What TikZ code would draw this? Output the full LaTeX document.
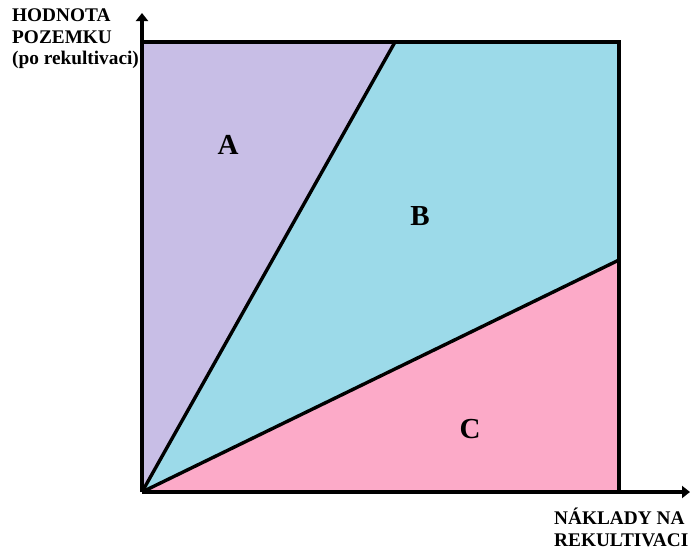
\documentclass[tikz,border=0pt]{standalone}
\usepackage{fontspec}
\setmainfont{Liberation Serif}
\usetikzlibrary{arrows.meta}
\definecolor{zoneA}{RGB}{200,190,230}
\definecolor{zoneB}{RGB}{156,218,233}
\definecolor{zoneC}{RGB}{252,170,200}

\begin{document}
\begin{tikzpicture}[x=1pt, y=-1pt,
    >={Triangle[length=8pt, width=12pt]},
    edge/.style={line width=3.4pt, line join=miter},
    axis/.style={line width=3.4pt, ->},
    zone/.style={font=\fontsize{29}{29}\selectfont\bfseries},
    axlbl/.style={font=\fontsize{19.3}{21.5}\selectfont\bfseries, align=left, inner sep=0pt},
]
\useasboundingbox (0,0) rectangle (694,549);
% corners of the square
\coordinate (O) at (142,492);
\coordinate (tl) at (142,42);
\coordinate (tr) at (619,42);
\coordinate (br) at (619,492);
\coordinate (topcut) at (395,42);
\coordinate (rightcut) at (619,260);
\coordinate (ytip) at (142,13);
\coordinate (xtip) at (690,492);
% regions
\fill[zoneA] (O) -- (tl) -- (topcut) -- cycle;
\fill[zoneB] (O) -- (topcut) -- (tr) -- (rightcut) -- cycle;
\fill[zoneC] (O) -- (rightcut) -- (br) -- cycle;
\draw[edge] (tl) -- (tr) -- (br);
\draw[edge] (O) -- (topcut);
\draw[edge] (O) -- (rightcut);
% axes
\draw[axis] (O) -- (ytip);
\draw[axis] (O) -- (xtip);
\node[zone] (a) at (228,145) {A};
\node[zone] (b) at (420,216) {B};
\node[zone] (c) at (470,429) {C};
\node[axlbl, anchor=north west] (ylbl) at (12,9) {HODNOTA\\POZEMKU\\(po rekultivaci)};
\node[axlbl, anchor=north west] (xlbl) at (554,508) {NÁKLADY NA\\REKULTIVACI};
\end{tikzpicture}
\end{document}
